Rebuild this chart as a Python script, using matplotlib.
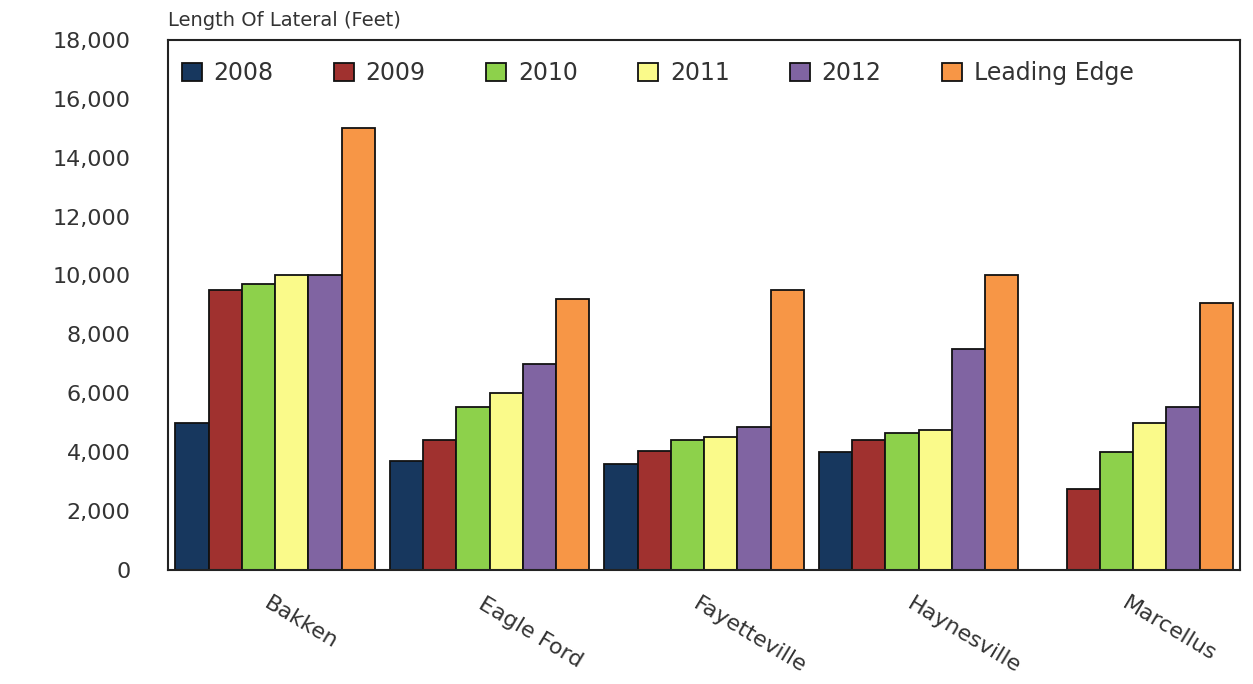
import numpy as np
import matplotlib.pyplot as plt

plays = ["Bakken", "Eagle Ford", "Fayetteville", "Haynesville", "Marcellus"]
series_names = ["2008", "2009", "2010", "2011", "2012", "Leading Edge"]

# lateral length in feet, one list per year
y2008 = [5000, 3700, 3600, 4000, 0]
y2009 = [9500, 4400, 4050, 4400, 2750]
y2010 = [9700, 5550, 4400, 4650, 4000]
y2011 = [10000, 6000, 4500, 4750, 5000]
y2012 = [10000, 7000, 4850, 7500, 5550]
leading_edge = [15000, 9200, 9500, 10000, 9050]

colors = ["#17375E", "#A0312F", "#8DD14B", "#FAFA8A", "#8064A2", "#F79646"]


def plot_chart():
    fig = plt.figure(figsize=(12.53, 6.84), dpi=100)
    ax = fig.add_axes([0.134, 0.1667, 0.856, 0.775])
    data = [y2008, y2009, y2010, y2011, y2012, leading_edge]
    x = np.arange(len(plays))
    w = 0.155
    for i, (name, vals) in enumerate(zip(series_names, data)):
        offs = (i - 2.5) * w
        ax.bar(x + offs, vals, w, color=colors[i], edgecolor="#111111",
               linewidth=1.3, label=name)

    ax.set_xlim(-0.5, 4.5)
    ax.set_ylim(0, 18000)
    ax.set_yticks(range(0, 18001, 2000))
    ax.set_yticklabels(["{:,}".format(v) for v in range(0, 18001, 2000)],
                       fontsize=16, color="#333333")
    ax.tick_params(axis="y", length=0, pad=27)
    ax.set_xticks(x - 0.02)
    ax.set_xticklabels(plays, rotation=-31, ha="left", rotation_mode="anchor",
                       fontsize=16, color="#333333")
    ax.tick_params(axis="x", length=0, pad=17)
    for s in ax.spines.values():
        s.set_color("#222222")
        s.set_linewidth(1.5)

    ax.legend(loc="upper left", bbox_to_anchor=(-0.007, 1.0), ncol=6, frameon=False,
              fontsize=17, handlelength=0.85, handleheight=0.85, handletextpad=0.5,
              columnspacing=2.55, labelcolor="#333333")
    fig.text(168 / 1253, 1 - 20 / 684, "Length Of Lateral (Feet)", fontsize=14,
             color="#333333", va="center", ha="left")
    fig.savefig("out.png", dpi=100)


if __name__ == "__main__":
    plot_chart()
